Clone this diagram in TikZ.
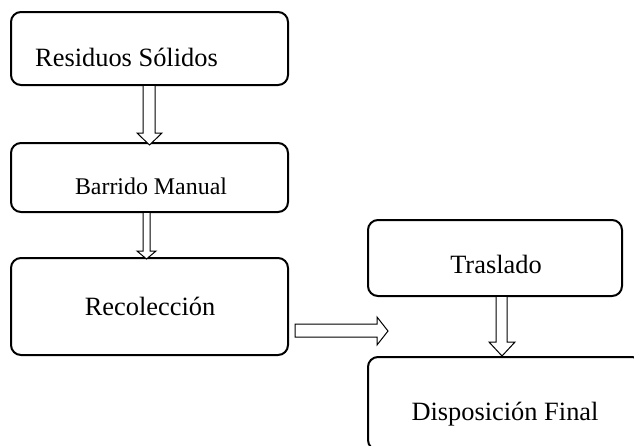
\documentclass[tikz,border=0pt]{standalone}
\usepackage{fontspec}
\setmainfont{Liberation Serif}
\begin{document}
\begin{tikzpicture}[x=1pt,y=-1pt,
  box/.style={draw=black,line width=2pt,rounded corners=10pt,inner sep=0pt},
  lbl/.style={inner sep=0pt,font=\fontsize{26.4}{30}\selectfont},
  lblsmall/.style={inner sep=0pt,font=\fontsize{23.9}{28}\selectfont},
  blockarrow/.style={draw=black,line width=1pt,fill=white,line join=miter}]
\useasboundingbox (0,0) rectangle (634,445);
\fill[white] (0,0) rectangle (634,445);
% boxes
\node[box,minimum width=277pt,minimum height=73pt] (b1) at (149.5,48.5) {};
\node[box,minimum width=277pt,minimum height=69pt] (b2) at (149.5,177.5) {};
\node[box,minimum width=277pt,minimum height=97pt] (b3) at (149.5,306.5) {};
\node[box,minimum width=254pt,minimum height=76pt] (b4) at (495,258) {};
\begin{scope}
\clip (0,0) rectangle (634,445);
\node[box,minimum width=274pt,minimum height=93pt] (b5) at (505,403.5) {};
\end{scope}
% labels
\node[lbl,anchor=base west] (t1) at (35,66) {Residuos Sólidos};
\node[lblsmall,anchor=base] (t2) at (151,194) {Barrido Manual};
\node[lbl,anchor=base] (t3) at (150,315) {Recolección};
\node[lbl,anchor=base] (t4) at (496,273) {Traslado};
\node[lbl,anchor=base] (t5) at (505,420) {Disposición Final};
% block arrows
\draw[blockarrow] (143,86) -- (143,133) -- (137,133) -- (149.5,145) -- (162,133) -- (155,133) -- (155,86);
\draw[blockarrow] (143,213) -- (143,251) -- (137,251) -- (146.5,259) -- (156,251) -- (150,251) -- (150,213);
\draw[blockarrow] (295,324) -- (377,324) -- (377,317) -- (388,331) -- (377,345) -- (377,337) -- (295,337) -- cycle;
\draw[blockarrow] (496,297) -- (496,342) -- (489,342) -- (502,356) -- (515,342) -- (507,342) -- (507,297);
\end{tikzpicture}
\end{document}
